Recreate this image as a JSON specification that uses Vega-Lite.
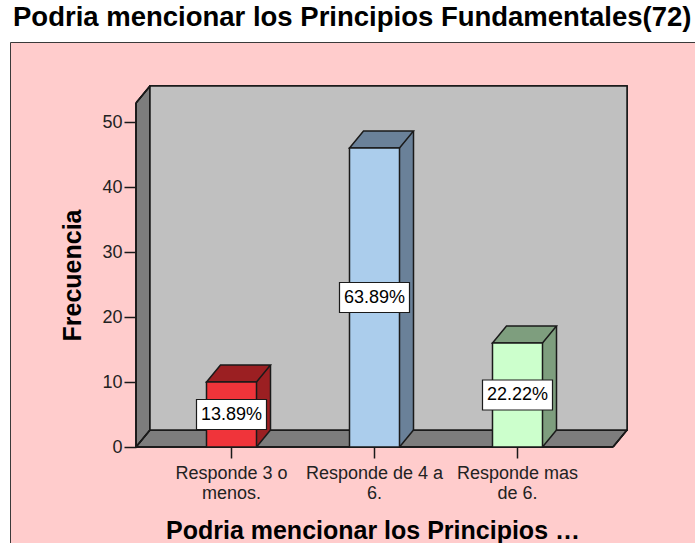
{
  "$schema": "https://vega.github.io/schema/vega-lite/v6.json",
  "autosize": "none",
  "width": 690,
  "height": 501,
  "padding": {"left": 10, "top": 42, "right": 0, "bottom": 0},
  "background": "#ffffff",
  "config": {
    "font": "Liberation Sans",
    "view": {"fill": "#FFCCCC", "stroke": "#3a3a3a", "strokeWidth": 1}
  },
  "title": {
    "text": "Podria mencionar los Principios Fundamentales(72)",
    "anchor": "start",
    "fontSize": 27.5,
    "fontWeight": "bold",
    "font": "Liberation Sans",
    "color": "#000000",
    "baseline": "alphabetic",
    "offset": 14,
    "dx": 3,
    "dy": 25
  },
  "data": {
    "values": [
      {"cat": "Responde 3 o\nmenos.", "n": 10, "pct": 0.1389},
      {"cat": "Responde de 4 a\n6.", "n": 46, "pct": 0.6389},
      {"cat": "Responde mas\nde 6.", "n": 16, "pct": 0.2222}
    ]
  },
  "resolve": {"scale": {"x": "independent", "y": "independent"}},
  "layer": [
    {
      "encoding": {
        "x": {"datum": 0, "type": "quantitative", "scale": {"domain": [0, 1], "range": [126, 603], "nice": false, "zero": false}, "axis": null},
        "y": {"datum": 0, "type": "quantitative", "scale": {"domain": [-14.769, 62.308], "nice": false, "zero": false}, "axis": null}
      },
      "layer": [
        {
          "mark": {"type": "rect", "fill": "#7d7d7d", "x2Offset": 14},
          "encoding": {"x2": {"datum": 0}, "y": {"datum": 52.92, "type": "quantitative"}, "y2": {"datum": 0}}
        },
        {
          "mark": {"type": "point", "shape": "M0,0L14,-17L14,0Z", "size": 4, "filled": true, "fill": "#7d7d7d", "strokeWidth": 0, "opacity": 1},
          "encoding": {"y": {"datum": 52.92, "type": "quantitative"}}
        },
        {
          "mark": {"type": "rect", "fill": "#7d7d7d", "y2Offset": -17},
          "encoding": {"x2": {"datum": 1}, "y2": {"datum": 0}}
        },
        {
          "mark": {"type": "point", "shape": "M0,0L14,-17L0,-17Z", "size": 4, "filled": true, "fill": "#7d7d7d", "strokeWidth": 0, "opacity": 1},
          "encoding": {"x": {"datum": 1, "type": "quantitative"}}
        },
        {
          "mark": {"type": "rect", "fill": "#c0c0c0", "stroke": "#1a1a1a", "strokeWidth": 1.5, "xOffset": 14, "x2Offset": 14, "yOffset": -17, "y2Offset": -17},
          "encoding": {"x2": {"datum": 1}, "y": {"datum": 52.92, "type": "quantitative"}, "y2": {"datum": 0}}
        },
        {
          "mark": {"type": "rule", "stroke": "#1a1a1a", "strokeWidth": 1.5},
          "encoding": {"y": {"datum": 52.92, "type": "quantitative"}, "y2": {"datum": 0}}
        },
        {
          "mark": {"type": "rule", "stroke": "#1a1a1a", "strokeWidth": 1.5},
          "encoding": {"x2": {"datum": 1}}
        },
        {
          "mark": {"type": "point", "shape": "M0,0L14,-17", "size": 4, "filled": false, "stroke": "#1a1a1a", "strokeWidth": 1.5, "opacity": 1},
          "encoding": {"y": {"datum": 52.92, "type": "quantitative"}}
        },
        {
          "mark": {"type": "point", "shape": "M0,0L14,-17", "size": 4, "filled": false, "stroke": "#1a1a1a", "strokeWidth": 1.5, "opacity": 1},
          "encoding": {}
        },
        {
          "mark": {"type": "point", "shape": "M0,0L14,-17", "size": 4, "filled": false, "stroke": "#1a1a1a", "strokeWidth": 1.5, "opacity": 1},
          "encoding": {"x": {"datum": 1, "type": "quantitative"}}
        }
      ]
    },
    {
      "resolve": {"scale": {"fill": "independent"}},
      "encoding": {
        "x": {"field": "cat", "type": "nominal", "sort": null, "scale": {"type": "band", "range": [126, 603], "paddingInner": 0.6503, "paddingOuter": 0.493}},
        "y": {"field": "n", "type": "quantitative", "scale": {"domain": [-14.769, 62.308], "nice": false, "zero": false}}
      },
      "layer": [
        {
          "mark": {"type": "bar", "width": 14, "xOffset": 32, "yOffset": -17, "y2Offset": -17},
          "encoding": {
            "y2": {"datum": 0},
            "fill": {"field": "cat", "type": "nominal", "sort": null, "scale": {"range": ["#9b1f22", "#6a8199", "#7e9e7e"]}, "legend": null}
          }
        },
        {
          "mark": {"type": "point", "shape": "M25,0L25,-17L39,-17Z", "size": 4, "filled": true, "strokeWidth": 0, "opacity": 1},
          "encoding": {
            "y": {"datum": 0, "type": "quantitative"},
            "fill": {"field": "cat", "type": "nominal", "sort": null, "scale": {"range": ["#9b1f22", "#6a8199", "#7e9e7e"]}, "legend": null}
          }
        },
        {
          "mark": {"type": "rule", "stroke": "#1a1a1a", "strokeWidth": 1.5, "xOffset": 39, "yOffset": -17, "y2Offset": -17},
          "encoding": {"y2": {"datum": 0}}
        },
        {
          "mark": {"type": "point", "shape": "M25,0L39,-17", "size": 4, "filled": false, "stroke": "#1a1a1a", "strokeWidth": 1.5, "opacity": 1},
          "encoding": {"y": {"datum": 0, "type": "quantitative"}}
        },
        {
          "mark": {"type": "point", "shape": "M-25,0L25,0L39,-17L-11,-17Z", "size": 4, "filled": true, "stroke": "#1a1a1a", "strokeWidth": 1.5, "opacity": 1},
          "encoding": {
            "fill": {"field": "cat", "type": "nominal", "sort": null, "scale": {"range": ["#9b1f22", "#6a8199", "#7e9e7e"]}, "legend": null}
          }
        },
        {
          "mark": {"type": "bar", "stroke": "#1a1a1a", "strokeWidth": 1.5},
          "encoding": {
            "y2": {"datum": 0},
            "fill": {"field": "cat", "type": "nominal", "sort": null, "scale": {"range": ["#f0343a", "#abcdec", "#ccffcc"]}, "legend": null},
            "x": {
              "field": "cat", "type": "nominal", "sort": null,
              "axis": {
                "offset": -96, "domain": false, "grid": false,
                "tickSize": 11, "tickColor": "#1a1a1a", "tickWidth": 1.5,
                "labelFontSize": 18, "labelColor": "#222222", "labelPadding": 6, "labelLineHeight": 20, "labelAngle": 0,
                "labelAlign": "center", "labelBaseline": "top",
                "labelExpr": "split(datum.label, '\\n')",
                "title": "Podria mencionar los Principios …",
                "titleFontSize": 25, "titleFontWeight": "bold", "titleColor": "#000000",
                "titleX": 362.5, "titleY": 91, "titleAlign": "center", "titleBaseline": "alphabetic"
              }
            },
            "y": {
              "field": "n", "type": "quantitative",
              "axis": {
                "values": [0, 10, 20, 30, 40, 50], "format": "d",
                "offset": -126, "domain": false, "grid": false,
                "tickSize": 12, "tickColor": "#1a1a1a", "tickWidth": 1.5,
                "labelFontSize": 18, "labelColor": "#222222", "labelPadding": 2,
                "title": "Frecuencia",
                "titleFontSize": 25, "titleFontWeight": "bold", "titleColor": "#000000",
                "titleX": -64, "titleY": 233, "titleAngle": -90, "titleAlign": "center", "titleBaseline": "middle"
              }
            }
          }
        }
      ]
    },
    {
      "encoding": {
        "x": {"field": "cat", "type": "nominal", "sort": null, "scale": {"type": "band", "range": [126, 603], "paddingInner": 0.6503, "paddingOuter": 0.493}, "axis": null},
        "y": {"field": "n", "type": "quantitative", "scale": {"domain": [-29.538, 124.616], "nice": false, "zero": false}, "axis": null}
      },
      "layer": [
        {
          "mark": {"type": "point", "shape": "M-35,-15H35V15H-35Z", "size": 4, "filled": true, "fill": "#ffffff", "stroke": "#1a1a1a", "strokeWidth": 1.2, "opacity": 1}
        },
        {
          "mark": {"type": "text", "fontSize": 18, "font": "Liberation Sans", "color": "#000000", "align": "center", "baseline": "middle"},
          "encoding": {"text": {"field": "pct", "type": "quantitative", "format": ".2%"}}
        }
      ]
    }
  ]
}
